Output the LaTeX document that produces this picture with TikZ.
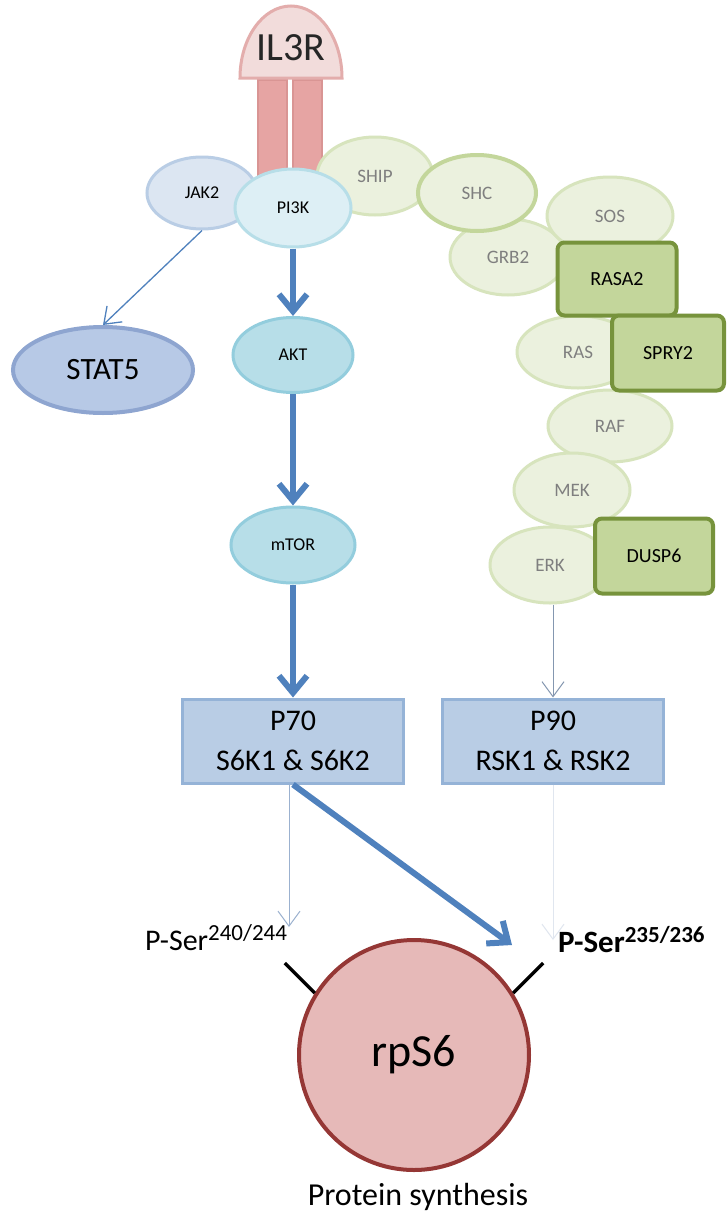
\documentclass[tikz,border=0pt]{standalone}
\usepackage{fontspec}
\setmainfont{Carlito}
\usetikzlibrary{shapes.geometric,arrows.meta}
\newcommand\myfs[1]{\fontsize{#1}{#1}\selectfont}
\definecolor{arrowblue}{HTML}{4F81BD}
\definecolor{jakfill}{HTML}{DCE6F2}
\definecolor{jakdraw}{HTML}{B9CDE5}
\definecolor{pifill}{HTML}{DDEFF5}
\definecolor{pidraw}{HTML}{B7DEE8}
\definecolor{aktfill}{HTML}{B7DEE8}
\definecolor{aktdraw}{HTML}{93CDDD}
\definecolor{statfill}{HTML}{B7C9E6}
\definecolor{statdraw}{HTML}{8EA5D0}
\definecolor{gfill}{HTML}{EBF1DE}
\definecolor{gdraw}{HTML}{D7E4BD}
\definecolor{gtext}{HTML}{7F7F7F}
\definecolor{shcdraw}{HTML}{C3D69B}
\definecolor{grfill}{HTML}{C3D69B}
\definecolor{grdraw}{HTML}{77933C}
\definecolor{boxfill}{HTML}{B9CDE5}
\definecolor{boxdraw}{HTML}{95B3D7}
\definecolor{domefill}{HTML}{F2DCDB}
\definecolor{domedraw}{HTML}{E3ADAC}
\definecolor{barfill}{HTML}{E6A4A3}
\definecolor{bardraw}{HTML}{D99594}
\definecolor{rpsfill}{HTML}{E6B9B8}
\definecolor{rpsdraw}{HTML}{953735}
\definecolor{c240}{HTML}{9BB1CF}
\definecolor{cerk}{HTML}{8497B0}
\definecolor{cfaint}{HTML}{E0E6EF}
\begin{document}
\begin{tikzpicture}[x=1pt,y=-1pt,
  ell/.style={ellipse, inner sep=0pt, line width=3pt},
  gell/.style={ell, fill=gfill, draw=gdraw, text=gtext, font=\myfs{19}},
  grect/.style={rectangle, rounded corners=7pt, inner sep=0pt, fill=grfill, draw=grdraw, line width=4pt, font=\myfs{20}},
  kbox/.style={rectangle, inner sep=0pt, fill=boxfill, draw=boxdraw, line width=3pt, minimum width=221pt, minimum height=84pt, align=center, font=\fontsize{30}{40}\selectfont},
  thickarr/.style={draw=arrowblue, line width=6pt, -{Straight Barb[length=17pt,width=28pt]}},
  thinarr/.style={line width=1pt, -{Straight Barb[length=15pt,width=22pt]}},
  tick/.style={line width=3.5pt, draw=black}
]
\useasboundingbox[fill=white] (0,0) rectangle (728,1218);

% receptor
\draw[fill=barfill, draw=bardraw, line width=2pt] (258,80) rectangle (287,185);
\draw[fill=barfill, draw=bardraw, line width=2pt] (293,80) rectangle (322,185);
\draw[fill=domefill, draw=domedraw, line width=3pt] (240,78) arc[start angle=180, end angle=360, x radius=51, y radius=72] -- cycle;
\node[font=\myfs{40}, text=black!85] (il3r) at (291,48) {IL3R};

% left
\node[ell, fill=jakfill, draw=jakdraw, minimum width=110pt, minimum height=72pt, font=\myfs{18}] (jak2) at (202,193) {JAK2};
\node[gell, minimum width=116pt, minimum height=78pt] (ship) at (375,176) {SHIP};
\node[ell, fill=pifill, draw=pidraw, minimum width=116pt, minimum height=78pt, font=\myfs{18}] (pi3k) at (293,208) {PI3K};
\node[ell, fill=statfill, draw=statdraw, line width=4pt, minimum width=180pt, minimum height=86pt, font=\myfs{31}] (stat5) at (103,370) {STAT5};
\node[ell, fill=aktfill, draw=aktdraw, minimum width=120pt, minimum height=75pt, font=\myfs{18}] (akt) at (293,355) {AKT};
\node[ell, fill=aktfill, draw=aktdraw, minimum width=124pt, minimum height=76pt, font=\myfs{18}] (mtor) at (293,545) {mTOR};

% right (green)
\node[gell, minimum width=116pt, minimum height=76pt] (grb2) at (508,257) {GRB2};
\node[gell, draw=shcdraw, line width=4pt, minimum width=118pt, minimum height=76pt] (shc) at (477,193) {SHC};
\node[gell, minimum width=126pt, minimum height=78pt] (sos) at (610,216) {SOS};
\node[gell, minimum width=122pt, minimum height=72pt] (ras) at (578,352) {RAS};
\node[gell, minimum width=124pt, minimum height=72pt] (raf) at (610,426) {RAF};
\node[gell, minimum width=116pt, minimum height=74pt] (mek) at (572,490) {MEK};
\node[gell, minimum width=120pt, minimum height=76pt] (erk) at (550,565) {ERK};
\node[grect, minimum width=119pt, minimum height=73pt] (rasa2) at (617,279) {RASA2};
\node[grect, minimum width=112pt, minimum height=75pt] (spry2) at (668,353) {SPRY2};
\node[grect, minimum width=118pt, minimum height=75pt] (dusp6) at (654,556) {DUSP6};

% kinases
\node[kbox] (p70) at (293,741) {P70\\S6K1 \& S6K2};
\node[kbox] (p90) at (553,741) {P90\\RSK1 \& RSK2};

% rpS6
\node[circle, inner sep=0pt, minimum size=230pt, fill=rpsfill, draw=rpsdraw, line width=4pt, font=\myfs{46}] (rps6) at (414,1055) {rpS6};
\node[anchor=base west, inner sep=0pt, font=\myfs{30}] (ps240) at (145,950) {P-Ser\raisebox{10pt}{\myfs{23}240/244}};
\node[anchor=base west, inner sep=0pt, font=\myfs{31}\bfseries] (ps235) at (558,952) {P-Ser\raisebox{10pt}{\myfs{23}\bfseries 235/236}};
\node[anchor=base, inner sep=0pt, font=\myfs{32}] (prot) at (418,1205) {Protein synthesis};

\coordinate (t240) at (289,927);
\coordinate (t235) at (512,945);
\coordinate (t235b) at (553,940);

% connectors
\draw[thinarr, draw=arrowblue, line width=1.3pt] (jak2.south) -- (stat5.north);
\draw[thickarr] (pi3k) -- (akt);
\draw[thickarr] (akt) -- (mtor);
\draw[thickarr] (mtor) -- (p70.north);
\draw[thickarr] (p70.south) -- (t235);
\draw[thinarr, draw=c240] (p70.south -| t240) -- (t240);
\draw[thinarr, draw=cerk] (p90.north |- erk.south) -- (p90.north);
\draw[thinarr, draw=cfaint] (p90.south) -- (t235b);
\draw[tick] (rps6.148) -- ++(-30,-30);
\draw[tick] (rps6.32) -- ++(30,-30);
\end{tikzpicture}
\end{document}
